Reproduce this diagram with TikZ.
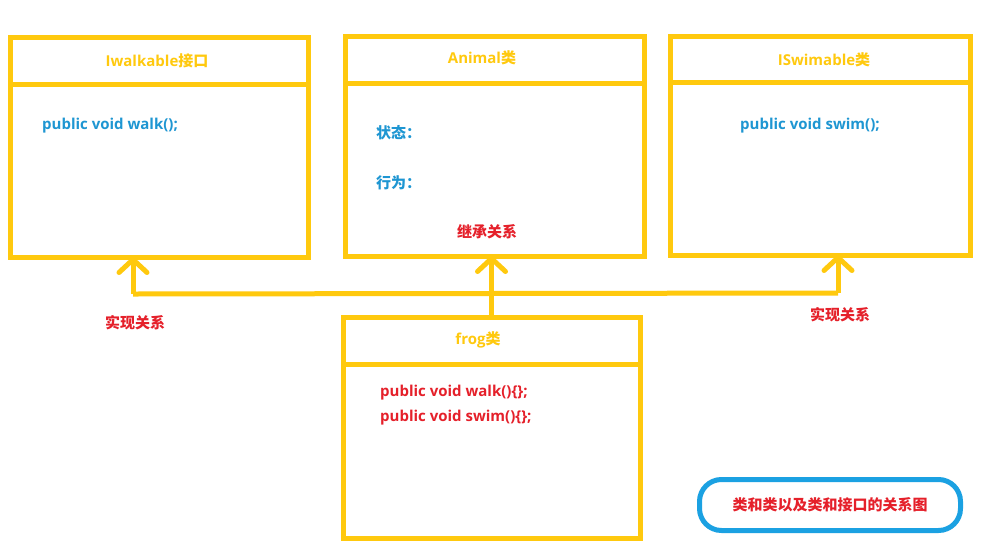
\documentclass[tikz,border=0pt]{standalone}
\usepackage{fontspec}
\setmainfont{Open Sans}
\newfontfamily\cn{Noto Sans CJK SC}
\usetikzlibrary{arrows.meta,calc}
\definecolor{gold}{HTML}{FFC90E}
\definecolor{codeblue}{HTML}{1E96D2}
\definecolor{notered}{HTML}{E5202A}
\definecolor{framblue}{HTML}{1BA1E2}
\tikzset{every node/.style={font=\bfseries\fontsize{15}{18}\selectfont}}
\begin{document}
\begin{tikzpicture}[x=1pt,y=-1pt,
  frame/.style={draw=gold,line width=5pt,inner sep=0pt,outer sep=0pt},
  link/.style={draw=gold,line width=5pt},
  head/.style={-{Straight Barb[length=13pt,width=28pt,round]}},
  title/.style={text=gold},
  member/.style={text=codeblue,anchor=west,inner xsep=0pt},
  impl/.style={text=notered,anchor=west,inner xsep=0pt}]

\useasboundingbox[fill=white] (0,0) rectangle (986,550);

%draw the four class boxes
\node[frame,minimum width=298pt,minimum height=220pt] (walkbox) at (159,147) {};
\node[frame,minimum width=299pt,minimum height=220pt] (animalbox) at (494.5,146) {};
\node[frame,minimum width=300pt,minimum height=219pt] (swimbox) at (820,145.5) {};
\node[frame,minimum width=297pt,minimum height=221pt] (frogbox) at (491.5,427.5) {};

%draw the header lines
\draw[link] ($(walkbox.north west)+(0,47)$) -- ($(walkbox.north east)+(0,47)$);
\draw[link] ($(animalbox.north west)+(0,47)$) -- ($(animalbox.north east)+(0,47)$);
\draw[link] ($(swimbox.north west)+(0,46)$) -- ($(swimbox.north east)+(0,46)$);
\draw[link] ($(frogbox.north west)+(0,47)$) -- ($(frogbox.north east)+(0,47)$);

%titles and members
\node[title] (walktitle) at (157,61) {Iwalkable{\cn 接口}};
\node[member] (walkm) at (42,126) {public void walk();};
\node[title] (animaltitle) at (482,58) {Animal{\cn 类}};
\node[member] (state) at (376,133) {{\cn 状态：}};
\node[member] (action) at (376,183) {{\cn 行为：}};
\node[title] (swimtitle) at (824,60) {ISwimable{\cn 类}};
\node[member] (swimm) at (740,126) {public void swim();};
\node[title] (frogtitle) at (478,340) {frog{\cn 类}};
\node[impl] (frogwalk) at (380,393) {public void walk()\{\};};
\node[impl] (frogswim) at (380,418) {public void swim()\{\};};

%draw the connectors
\coordinate (walkfoot) at (133,294);
\coordinate (swimfoot) at (838,293);
\draw[link] (walkfoot) -- (swimfoot);
\draw[link,head] (frogbox.north) -- (frogbox.north |- animalbox.south);
\draw[link,head] (walkfoot) -- (walkfoot |- walkbox.south);
\draw[link,head] (swimfoot) -- (swimfoot |- swimbox.south);

%relation labels
\node[text=notered] (inherit) at (487,232) {{\cn 继承关系}};
\node[text=notered] (leftimpl) at (135,323) {{\cn 实现关系}};
\node[text=notered] (rightimpl) at (840,315) {{\cn 实现关系}};

%caption box
\node[draw=framblue,line width=5pt,rounded corners=22pt,minimum width=261pt,minimum height=51pt,text=notered] (caption) at (830,505) {{\cn 类和类以及类和接口的关系图}};

\end{tikzpicture}
\end{document}
